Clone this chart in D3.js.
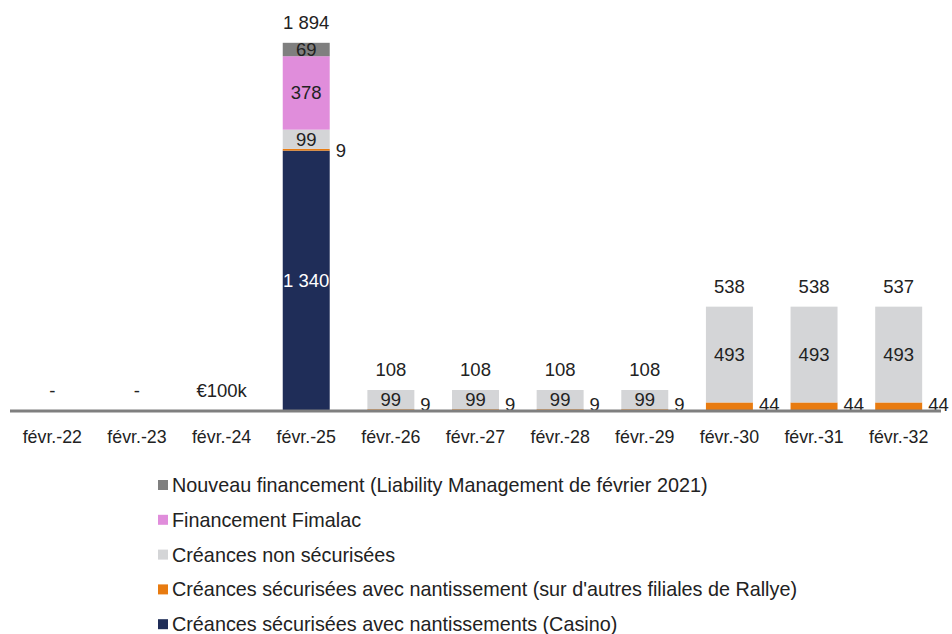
<!DOCTYPE html>
<html lang="fr">
<head>
<meta charset="UTF-8">
<title>Échéancier</title>
<script src="https://d3js.org/d3.v7.min.js"></script>
<style>
  body { margin: 0; background: #fff; }
  svg text { font-family: 'Liberation Sans', Arial, sans-serif; font-size: 18.5px; fill: #222; }
  .legend text { font-size: 19.8px; }
</style>
</head>
<body>
<svg id="chart" width="952" height="634"></svg>
<script>
// data
const categories = ["févr.-22", "févr.-23", "févr.-24", "févr.-25", "févr.-26", "févr.-27",
                    "févr.-28", "févr.-29", "févr.-30", "févr.-31", "févr.-32"];
const casino   = [0, 0, 0, 1340, 0, 0, 0, 0, 0, 0, 0];
const autres   = [0, 0, 0, 9, 9, 9, 9, 9, 44, 44, 44];
const nonSec   = [0, 0, 0, 99, 99, 99, 99, 99, 493, 493, 493];
const fimalac  = [0, 0, 0, 378, 0, 0, 0, 0, 0, 0, 0];
const nouveau  = [0, 0, 0, 69, 0, 0, 0, 0, 0, 0, 0];
const totalLabels = ["-", "-", "€100k", "1 894", "108", "108", "108", "108", "538", "538", "537"];

const series = [
  { key: "casino",  name: "Créances sécurisées avec nantissements (Casino)", values: casino, color: "#1f2d58", text: "#fff" },
  { key: "autres",  name: "Créances sécurisées avec nantissement (sur d'autres filiales de Rallye)", values: autres, color: "#e87b10", text: "#222" },
  { key: "nonSec",  name: "Créances non sécurisées", values: nonSec, color: "#d4d5d7", text: "#222" },
  { key: "fimalac", name: "Financement Fimalac", values: fimalac, color: "#e08ddb", text: "#222" },
  { key: "nouveau", name: "Nouveau financement (Liability Management de février 2021)", values: nouveau, color: "#7f7f7f", text: "#222" }
];

const rows = categories.map((c, i) => {
  const r = { cat: c };
  series.forEach(s => r[s.key] = s.values[i]);
  return r;
});

const svg = d3.select("#chart");
const baseY = 411;

const x = d3.scaleBand().domain(categories).range([10, 941]).paddingInner(0.445).paddingOuter(0.2225);
const y = d3.scaleLinear().domain([0, 1894]).range([baseY, 43]);

const stack = d3.stack().keys(series.map(s => s.key));
const stacked = stack(rows);

stacked.forEach((layer, li) => {
  const s = series[li];
  svg.append("g").selectAll("rect")
    .data(layer.filter(d => d[1] > d[0]))
    .join("rect")
    .attr("x", d => x(d.data.cat))
    .attr("width", x.bandwidth())
    .attr("y", d => y(d[1]))
    .attr("height", d => y(d[0]) - y(d[1]))
    .attr("fill", s.color);
});

// labels inside segments (the thin orange one is labelled outside)
stacked.forEach((layer, li) => {
  const s = series[li];
  if (s.key === "autres") {
    svg.append("g").selectAll("text")
      .data(layer.filter(d => d[1] > d[0]))
      .join("text")
      .attr("x", d => x(d.data.cat) + x.bandwidth() + 6)
      .attr("y", d => Math.min((y(d[0]) + y(d[1])) / 2 + 1, 405))
      .attr("dy", "0.35em")
      .text(d => d[1] - d[0]);
    return;
  }
  svg.append("g").selectAll("text")
    .data(layer.filter(d => d[1] > d[0]))
    .join("text")
    .attr("x", d => x(d.data.cat) + x.bandwidth() / 2)
    .attr("y", d => (y(d[0]) + y(d[1])) / 2)
    .attr("dy", "0.35em")
    .attr("text-anchor", "middle")
    .style("fill", s.text)
    .text(d => d3.format(",")(d[1] - d[0]).replace(",", " "));
});

// totals above bars
const topLayer = stacked[stacked.length - 1];
svg.append("g").selectAll("text")
  .data(topLayer)
  .join("text")
  .attr("x", d => x(d.data.cat) + x.bandwidth() / 2)
  .attr("y", d => Math.min(y(d[1]) - 20, 395))
  .attr("dy", "0.35em")
  .attr("text-anchor", "middle")
  .text((d, i) => totalLabels[i]);

// axis
const xAxis = svg.append("g").attr("transform", `translate(0,${baseY})`)
  .call(d3.axisBottom(x).tickSize(0).tickPadding(19));
xAxis.select(".domain").attr("stroke", "#7f7f7f").attr("stroke-width", 3).attr("d", "M10,0H941");
xAxis.selectAll("text").style("font-size", "17.8px").style("font-family", "'Liberation Sans', Arial, sans-serif").attr("fill", "#222");

// legend
const legend = svg.append("g").attr("class", "legend");
series.slice().reverse().forEach((s, i) => {
  const ly = 485 + i * 34.8;
  legend.append("rect").attr("x", 158).attr("y", ly - 5).attr("width", 10).attr("height", 10).attr("fill", s.color);
  legend.append("text").attr("x", 172).attr("y", ly).attr("dy", "0.35em").text(s.name);
});
</script>
</body>
</html>
